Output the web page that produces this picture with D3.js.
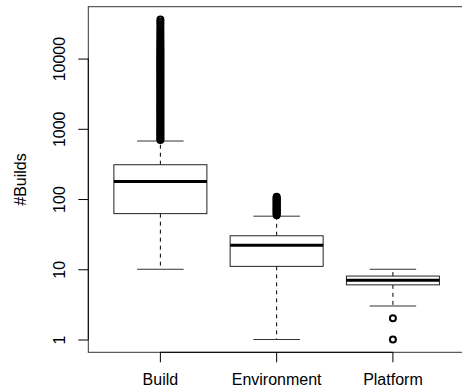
<!DOCTYPE html>
<html>
<head>
<meta charset="utf-8">
<script src="https://cdn.jsdelivr.net/npm/d3@7"></script>
<style>
  html, body { margin: 0; padding: 0; background: #fff; }
  svg { display: block; font-family: "Liberation Sans", Arial, Helvetica, sans-serif; }
</style>
</head>
<body>
<svg id="chart" width="462" height="387"></svg>
<script>
// Number of builds per job category, shown as box plots on a log scale.
const categories = ["Build", "Environment", "Platform"];
const whiskerLow = [10, 1, 3];
const lowerQuartile = [62, 11, 6];
const medians = [177, 22, 7];
const upperQuartile = [308, 30, 8];
const whiskerHigh = [670, 57, 10];

const buildOutliers = [
  690, 720, 760, 800, 840, 880, 920, 970, 1020, 1070, 1120, 1180, 1240, 1300,
  1370, 1440, 1510, 1590, 1670, 1750, 1840, 1930, 2030, 2130, 2240, 2350, 2470,
  2590, 2720, 2860, 3000, 3150, 3310, 3480, 3650, 3830, 4020, 4220, 4430, 4650,
  4880, 5120, 5380, 5650, 5930, 6230, 6540, 6870, 7210, 7570, 7950, 8350, 8770,
  9210, 9670, 10150, 10700, 11200, 11800, 12400, 13000, 13700, 14500, 15300,
  16200, 17200, 18300, 19600, 21000, 22600, 24300, 26200, 28500, 31000, 33500, 36000
];
const environmentOutliers = [
  59, 61, 63, 65, 67, 69, 71, 73, 75, 78, 80, 83, 86, 89, 92, 95, 98, 101, 104, 108
];
const platformOutliers = [2, 1];
const outliers = [buildOutliers, environmentOutliers, platformOutliers];

const yTicks = [1, 10, 100, 1000, 10000];
const yLabel = "#Builds";

const svg = d3.select("#chart");
const plot = { left: 88.3, right: 465, top: 6.7, bottom: 352.3 };
const fontSize = 16;

// x: one band per category, with 4% extra room on both ends
const x = d3.scaleBand()
  .domain(categories)
  .range([plot.left, plot.right])
  .paddingInner(0)
  .paddingOuter(0.12);
const cx = c => x(c) + x.bandwidth() / 2;

// y: log scale spanning all values, extended by 4% of the log range
const allValues = whiskerLow.concat(whiskerHigh, ...outliers);
const lo = Math.log10(d3.min(allValues));
const hi = Math.log10(d3.max(allValues));
const pad = 0.04 * (hi - lo);
const y = d3.scaleLog()
  .domain([Math.pow(10, lo - pad), Math.pow(10, hi + pad)])
  .range([plot.bottom, plot.top]);

svg.append("rect")
  .attr("width", 462).attr("height", 387).attr("fill", "#fff");

// boxes
const boxHalf = x.bandwidth() * 0.4;
const stapleHalf = x.bandwidth() * 0.2;

const groups = svg.append("g").selectAll("g")
  .data(categories.map((c, i) => ({
    c, lo: whiskerLow[i], q1: lowerQuartile[i], med: medians[i],
    q3: upperQuartile[i], hi: whiskerHigh[i], out: outliers[i]
  })))
  .join("g");

// dashed whiskers
groups.append("line")
  .attr("x1", d => cx(d.c)).attr("x2", d => cx(d.c))
  .attr("y1", d => y(d.q1)).attr("y2", d => y(d.lo))
  .attr("stroke", "#000").attr("stroke-width", 1).attr("stroke-dasharray", "4,4");
groups.append("line")
  .attr("x1", d => cx(d.c)).attr("x2", d => cx(d.c))
  .attr("y1", d => y(d.q3)).attr("y2", d => y(d.hi))
  .attr("stroke", "#000").attr("stroke-width", 1).attr("stroke-dasharray", "4,4");

// staples
groups.selectAll("line.staple")
  .data(d => [d.lo, d.hi].map(v => ({ c: d.c, v })))
  .join("line")
  .attr("class", "staple")
  .attr("x1", d => cx(d.c) - stapleHalf).attr("x2", d => cx(d.c) + stapleHalf)
  .attr("y1", d => y(d.v)).attr("y2", d => y(d.v))
  .attr("stroke", "#333").attr("stroke-width", 1);

// box
groups.append("rect")
  .attr("x", d => cx(d.c) - boxHalf)
  .attr("width", boxHalf * 2)
  .attr("y", d => y(d.q3))
  .attr("height", d => y(d.q1) - y(d.q3))
  .attr("fill", "#fff").attr("stroke", "#222").attr("stroke-width", 1);

// median
groups.append("line")
  .attr("x1", d => cx(d.c) - boxHalf).attr("x2", d => cx(d.c) + boxHalf)
  .attr("y1", d => y(d.med)).attr("y2", d => y(d.med))
  .attr("stroke", "#000").attr("stroke-width", 3);

// outliers as open circles
groups.selectAll("circle")
  .data(d => d.out.map(v => ({ c: d.c, v })))
  .join("circle")
  .attr("cx", d => cx(d.c))
  .attr("cy", d => y(d.v))
  .attr("r", 3)
  .attr("fill", "none").attr("stroke", "#000").attr("stroke-width", 2);

// frame
svg.append("rect")
  .attr("x", plot.left).attr("y", plot.top)
  .attr("width", plot.right - plot.left).attr("height", plot.bottom - plot.top)
  .attr("fill", "none").attr("stroke", "#333").attr("stroke-width", 1);

// y axis
const yAxis = svg.append("g")
  .attr("transform", `translate(${plot.left},0)`)
  .call(d3.axisLeft(y).tickValues(yTicks).tickFormat(d3.format("d")).tickSize(10).tickSizeOuter(0));
yAxis.select(".domain").remove();
yAxis.selectAll(".tick line").attr("stroke", "#000");
yAxis.selectAll(".tick text")
  .attr("transform", "rotate(-90)")
  .attr("x", 0).attr("y", -23.8).attr("dy", 0)
  .attr("text-anchor", "middle")
  .attr("font-size", fontSize).attr("font-family", null).attr("fill", "#000");
yAxis.append("line")
  .attr("x1", 0).attr("x2", 0)
  .attr("y1", y(yTicks[0])).attr("y2", y(yTicks[yTicks.length - 1]))
  .attr("stroke", "#000");

// x axis
const xAxis = svg.append("g")
  .attr("transform", `translate(0,${plot.bottom})`)
  .call(d3.axisBottom(x).tickSize(10).tickSizeOuter(0));
xAxis.select(".domain").remove();
xAxis.selectAll(".tick line").attr("stroke", "#000");
xAxis.selectAll(".tick text")
  .attr("y", 32.5).attr("dy", 0)
  .attr("font-size", fontSize).attr("font-family", null).attr("fill", "#000");
xAxis.append("line")
  .attr("x1", cx(categories[0])).attr("x2", cx(categories[categories.length - 1]))
  .attr("y1", 0).attr("y2", 0)
  .attr("stroke", "#000");

// y label
svg.append("text")
  .attr("transform", `translate(26,${(plot.top + plot.bottom) / 2}) rotate(-90)`)
  .attr("text-anchor", "middle")
  .attr("font-size", fontSize)
  .attr("fill", "#000")
  .text(yLabel);
</script>
</body>
</html>
